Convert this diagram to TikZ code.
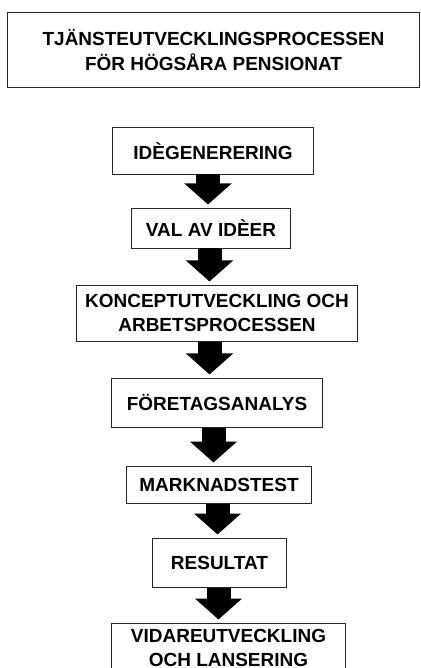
\documentclass[tikz,border=0pt]{standalone}
\usepackage{fontspec}
\setmainfont{Liberation Sans}
\usetikzlibrary{arrows.meta}

\begin{document}
\begin{tikzpicture}[x=0.025cm, y=-0.025cm,
        box/.style={draw=black!85, line width=0.7pt, fill=white, inner sep=0pt, align=center,
            font=\bfseries\fontsize{13.5}{17.5}\selectfont},
        flow/.style={line width=0.6cm, -{Triangle[width=1.15cm, length=0.525cm]}, shorten >=0.075cm}]
        % Rama (bildens storlek)
        \useasboundingbox (0,0) rectangle (420,668);
        \clip (0,0) rectangle (420,668);

        % Rubrik
        \node[box, minimum width=10.275cm, minimum height=1.85cm] (rubrik) at (213.5,50)
            {TJÄNSTEUTVECKLINGSPROCESSEN\\FÖR HÖGSÅRA PENSIONAT};

        % Processens steg
        \node[box, minimum width=5cm, minimum height=1.15cm] (idegen) at (213,151) {IDÈGENERERING};
        \node[box, minimum width=3.95cm, minimum height=1cm] (val) at (211,228) {VAL AV IDÈER};
        \node[box, minimum width=7cm, minimum height=1.4cm] (koncept) at (217,313)
            {KONCEPTUTVECKLING OCH\\ARBETSPROCESSEN};
        \node[box, minimum width=5.25cm, minimum height=1.225cm] (analys) at (217,402.5) {FÖRETAGSANALYS};
        \node[box, minimum width=4.6cm, minimum height=0.925cm] (test) at (219,484.5) {MARKNADSTEST};
        \node[box, minimum width=3.325cm, minimum height=1.225cm] (resultat) at (219.5,562.5) {RESULTAT};
        \node[box, minimum width=5.825cm, minimum height=1.25cm] (lansering) at (228.5,648)
            {VIDAREUTVECKLING\\OCH LANSERING};

        % Pilar mellan stegen
        \draw[flow] (idegen.south -| 208,0) -- (val.north -| 208,0);
        \draw[flow] (val.south -| 209.5,0) -- (koncept.north -| 209.5,0);
        \draw[flow] (koncept.south -| 209.5,0) -- (analys.north -| 209.5,0);
        \draw[flow] (analys.south -| 213.5,0) -- (test.north -| 213.5,0);
        \draw[flow] (test.south -| 217.5,0) -- (resultat.north -| 217.5,0);
        \draw[flow] (resultat.south -| 218.5,0) -- (lansering.north -| 218.5,0);

    \end{tikzpicture}
\end{document}
